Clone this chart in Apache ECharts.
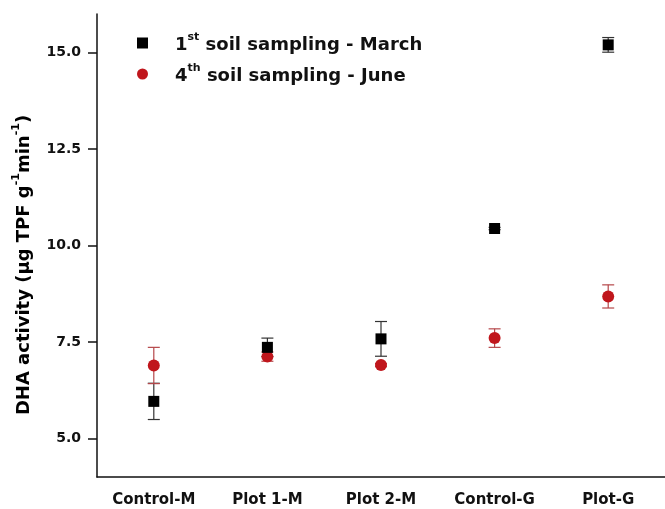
<!DOCTYPE html>
<html>
<head>
<meta charset="utf-8">
<script src="https://cdn.jsdelivr.net/npm/echarts@6/dist/echarts.min.js"></script>
<style>
  html, body { margin: 0; padding: 0; background: #fff; }
  #main { width: 665px; height: 509px; }
</style>
</head>
<body>
<div id="main"></div>
<script>
// data
const categories = ['Control-M', 'Plot 1-M', 'Plot 2-M', 'Control-G', 'Plot-G'];
const marchMean = [5.96, 7.36, 7.58, 10.44, 15.2];
const marchErr = [0.47, 0.24, 0.45, 0.03, 0.19];
const juneMean = [6.89, 7.12, 6.90, 7.60, 8.68];
const juneErr = [0.47, 0.12, 0.04, 0.24, 0.30];
const yTicks = [5, 7.5, 10, 12.5, 15];

const FONT = '"DejaVu Sans", sans-serif';

// error bar drawer
function errorBars(mean, err, color) {
  return {
    type: 'custom',
    data: mean.map((m, i) => [i, m - err[i], m + err[i]]),
    z: 1,
    silent: true,
    renderItem: function (params, api) {
      const lo = api.coord([api.value(0), api.value(1)]);
      const hi = api.coord([api.value(0), api.value(2)]);
      const w = 6;
      const style = { stroke: color, lineWidth: 1.2 };
      return {
        type: 'group',
        children: [
          { type: 'line', shape: { x1: lo[0], y1: lo[1], x2: hi[0], y2: hi[1] }, style: style },
          { type: 'line', shape: { x1: lo[0] - w, y1: lo[1], x2: lo[0] + w, y2: lo[1] }, style: style },
          { type: 'line', shape: { x1: hi[0] - w, y1: hi[1], x2: hi[0] + w, y2: hi[1] }, style: style }
        ]
      };
    }
  };
}

const richMain = { fontFamily: FONT, fontSize: 18, fontWeight: 'bold', color: '#111', lineHeight: 22, verticalAlign: 'bottom' };
const richSup = { fontFamily: FONT, fontSize: 11, fontWeight: 'bold', color: '#111', lineHeight: 22, verticalAlign: 'top' };

const chart = echarts.init(document.getElementById('main'));
chart.setOption({
  animation: false,
  textStyle: { fontFamily: FONT },
  grid: { left: 97, top: 14, width: 570, bottom: 32 },
  legend: {
    orient: 'vertical',
    left: 132,
    top: 27,
    itemWidth: 11,
    itemHeight: 11,
    itemGap: 9,
    data: [
      { name: 'march', icon: 'rect' },
      { name: 'june', icon: 'circle' }
    ],
    formatter: function (name) {
      if (name === 'march') return '{b|1}{s|st}{b| soil sampling - March}';
      return '{b|4}{s|th}{b| soil sampling - June}';
    },
    textStyle: {
      padding: [0, 0, 0, 22],
      rich: { b: richMain, s: richSup }
    }
  },
  graphic: [{
    type: 'text',
    x: 22,
    y: 265,
    rotation: Math.PI / 2,
    style: {
      text: '{t|DHA activity (µg TPF g}{s|-1}{t|min}{s|-1}{t|)}',
      align: 'center',
      verticalAlign: 'middle',
      rich: { t: richMain, s: richSup }
    }
  }],
  xAxis: {
    type: 'category',
    data: categories,
    boundaryGap: true,
    axisLine: { lineStyle: { color: '#111', width: 1.5 } },
    axisTick: { alignWithLabel: true, length: 8, lineStyle: { color: '#111', width: 1.5 } },
    axisLabel: { color: '#111', fontSize: 15, fontWeight: 'bold', margin: 16, fontFamily: FONT },
    splitLine: { show: false }
  },
  yAxis: {
    type: 'value',
    min: 4,
    max: 16,
    axisLine: { show: true, lineStyle: { color: '#111', width: 1.5 } },
    axisTick: { show: true, length: 9, customValues: yTicks, lineStyle: { color: '#111', width: 1.5 } },
    axisLabel: {
      customValues: yTicks,
      color: '#111',
      fontSize: 14,
      fontWeight: 'bold',
      margin: 16,
      fontFamily: FONT,
      formatter: v => v.toFixed(1)
    },
    splitLine: { show: false }
  },
  series: [
    errorBars(marchMean, marchErr, '#333'),
    errorBars(juneMean, juneErr, '#b5474a'),
    {
      name: 'march',
      type: 'scatter',
      symbol: 'rect',
      symbolSize: 11,
      z: 3,
      itemStyle: { color: '#000', opacity: 1 },
      data: marchMean.map((v, i) => [i, v])
    },
    {
      name: 'june',
      type: 'scatter',
      symbol: 'circle',
      symbolSize: 12,
      z: 2,
      itemStyle: { color: '#c0161c', opacity: 1 },
      data: juneMean.map((v, i) => [i, v])
    }
  ]
});
</script>
</body>
</html>
